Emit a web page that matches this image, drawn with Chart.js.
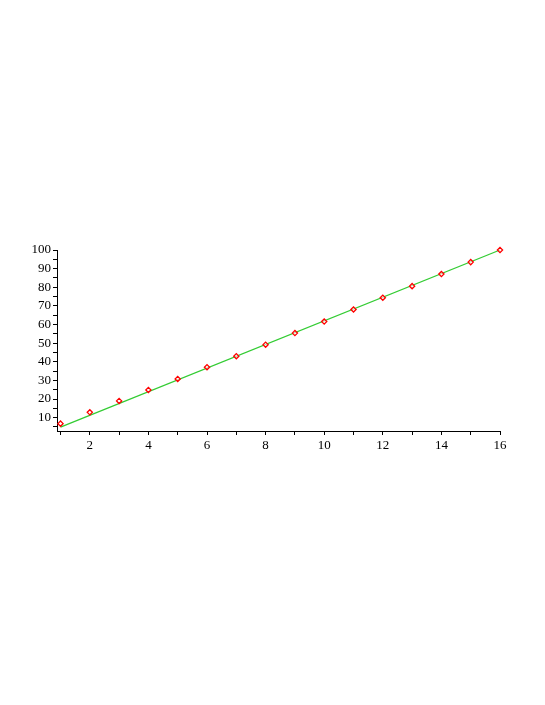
<!DOCTYPE html>
<html>
<head>
<meta charset="utf-8">
<script src="https://cdn.jsdelivr.net/npm/chart.js@4"></script>
<style>
html,body{margin:0;padding:0;background:#fff;width:545px;height:705px;overflow:hidden;}
#wrap{position:absolute;left:0;top:240px;width:520px;height:221px;}
</style>
</head>
<body>
<div id="wrap"><canvas id="c"></canvas></div>
<script>
const xValues = [1,2,3,4,5,6,7,8,9,10,11,12,13,14,15,16];
const yValues = [6.8,12.9,19.0,24.9,30.8,37.1,43.0,49.2,55.4,61.6,68.1,74.4,80.6,87.1,93.5,100.0];
const fitX = [1,16];
const fitY = [4.9,100];
const xTickLabels = [2,4,6,8,10,12,14,16];
const yTickLabels = [10,20,30,40,50,60,70,80,90,100];

const font = {family:'"Liberation Serif","Times New Roman",serif', size:13};

new Chart(document.getElementById('c'), {
  type:'scatter',
  data:{
    datasets:[
      {
        type:'line',
        data: fitX.map((x,i)=>({x:x,y:fitY[i]})),
        borderColor:'#33cc33',
        borderWidth:1.3,
        pointRadius:0,
        fill:false,
        clip:false,
        order:2
      },
      {
        data: xValues.map((x,i)=>({x:x,y:yValues[i]})),
        pointStyle:'rectRot',
        pointRadius:2.6,
        borderColor:'#ff0000',
        backgroundColor:'rgba(255,255,255,0.6)',
        borderWidth:1.3,
        clip:false,
        order:1
      }
    ]
  },
  options:{
    responsive:true,
    maintainAspectRatio:false,
    animation:false,
    layout:{padding:{top:10,right:20,bottom:0,left:0}},
    plugins:{legend:{display:false},tooltip:{enabled:false}},
    scales:{
      x:{
        type:'linear',
        min:0.88,max:16,
        border:{display:true,color:'#000',width:1},
        grid:{display:true,drawOnChartArea:false,drawTicks:true,tickLength:4,color:'#000'},
        ticks:{
          stepSize:1,includeBounds:false,autoSkip:false,maxRotation:0,
          color:'#000',font:font,padding:3,
          callback:(v)=> xTickLabels.includes(v) ? String(v) : ''
        },
        afterFit:(s)=>{s.height=30;}
      },
      y:{
        type:'linear',
        min:2.85,max:100,
        border:{display:true,color:'#000',width:1},
        grid:{display:true,drawOnChartArea:false,drawTicks:true,tickLength:4,color:'#000'},
        ticks:{
          stepSize:5,includeBounds:false,autoSkip:false,
          color:'#000',font:font,padding:2,
          callback:(v)=> yTickLabels.includes(v) ? String(v) : ''
        },
        afterFit:(s)=>{s.width=57;}
      }
    }
  }
});
</script>
</body>
</html>
